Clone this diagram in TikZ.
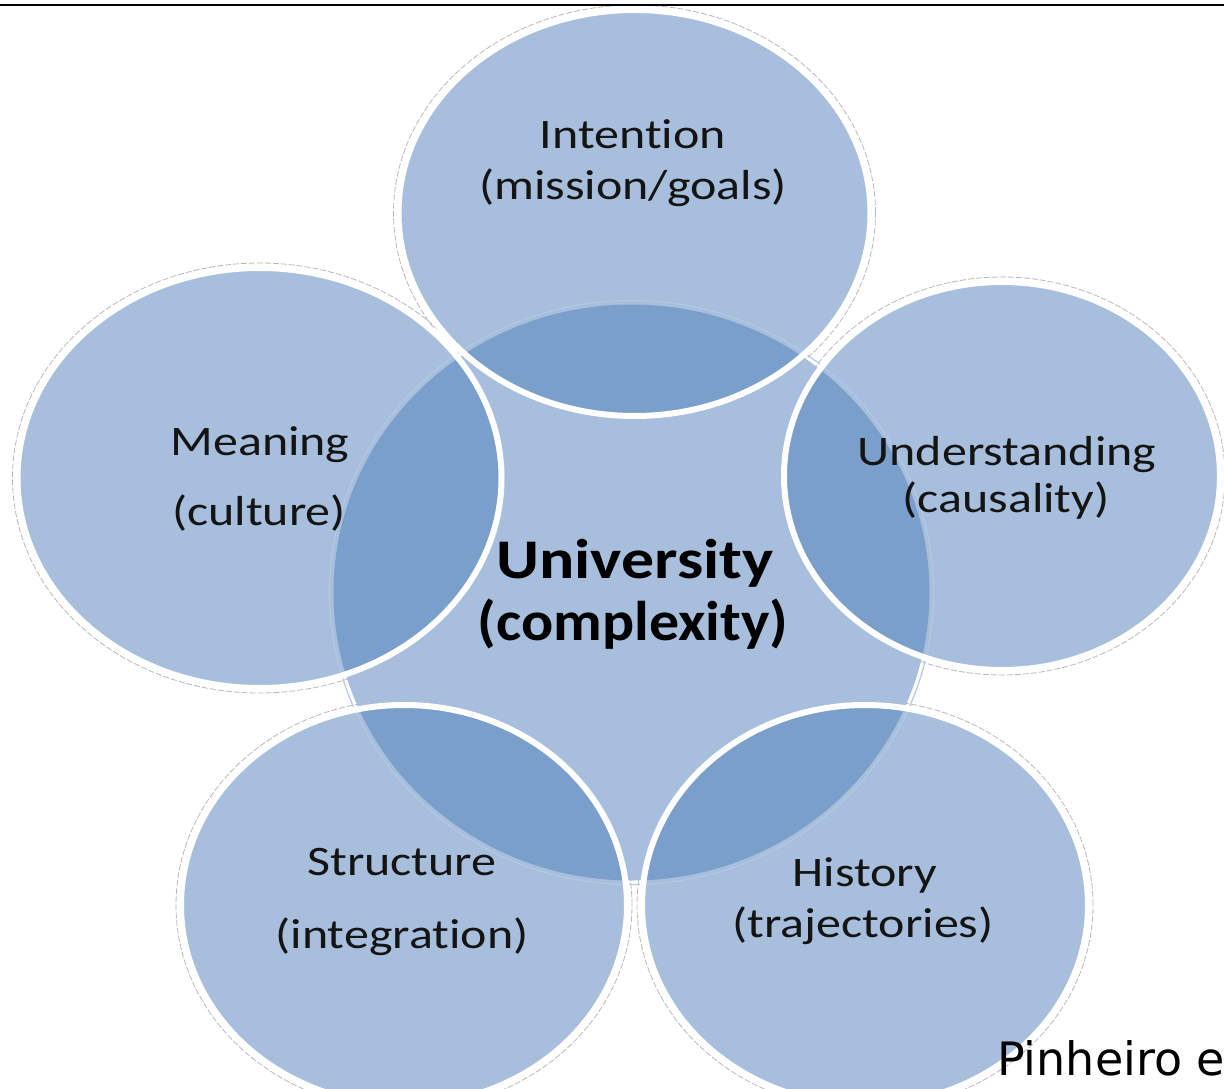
\documentclass[tikz,border=0pt]{standalone}
\usepackage{fontspec}
\setmainfont{Carlito}[Ligatures=NoCommon]
\newfontfamily\capfont{DejaVu Sans}
\usetikzlibrary{shapes.geometric}
\definecolor{lightblue}{HTML}{A7BFDD}
\definecolor{darkblue}{HTML}{7A9FCB}
\definecolor{ringblue}{HTML}{B3C8E3}
\definecolor{shadowgray}{HTML}{B8B8B8}
\definecolor{txt}{HTML}{141414}
\tikzset{
  lbl/.style={anchor=base, inner sep=0pt, text=txt, font=\fontsize{42}{50}\selectfont, xscale=1.19, transform shape},
  biglbl/.style={anchor=base, inner sep=0pt, text=black, font=\bfseries\fontsize{56}{62}\selectfont, transform shape},
  shadowline/.style={draw=shadowgray, line width=0.8pt, dash pattern=on 6pt off 2pt},
  rimline/.style={draw=white, line width=6pt},
}
\begin{document}
\begin{tikzpicture}[x=1pt,y=-1pt]
\useasboundingbox (0,0) rectangle (1224,1089);
\clip (0,0) rectangle (1224,1089);
% centres and radii
\coordinate (cC) at (631.5,592.5);
\coordinate (cT) at (634.5,213);
\coordinate (cL) at (259.5,478);
\coordinate (cR) at (1002,476);
\coordinate (cBL) at (404,905);
\coordinate (cBR) at (865,905);
% shadows (outer thin dashed outlines)
\path[shadowline] (cT) ellipse [x radius=241pt, y radius=208pt];
\path[shadowline] (cL) ellipse [x radius=247pt, y radius=215pt];
\path[shadowline] (cR) ellipse [x radius=223pt, y radius=199pt];
\path[shadowline] (cBL) ellipse [x radius=228pt, y radius=205pt];
\path[shadowline] (cBR) ellipse [x radius=228pt, y radius=205pt];
% centre ellipse
\path[fill=lightblue] (cC) ellipse [x radius=298pt, y radius=288pt];
% outer ellipses
\foreach \c/\rx/\ry in {cT/236/203, cL/242/210, cR/218/194, cBL/223/200, cBR/223/200}{
  \path[fill=lightblue] (\c) ellipse [x radius=\rx pt, y radius=\ry pt];
  \begin{scope}
    \clip (\c) ellipse [x radius=\rx pt, y radius=\ry pt];
    \path[fill=darkblue] (cC) ellipse [x radius=298pt, y radius=288pt];
  \end{scope}
}
% faint ring of centre ellipse
\path[draw=ringblue, line width=1.2pt] (cC) ellipse [x radius=302pt, y radius=292pt];
% white rims
\foreach \c/\rx/\ry in {cT/236/203, cL/242/210, cR/218/194, cBL/223/200, cBR/223/200}{
  \path[rimline] (\c) ellipse [x radius=\rx pt, y radius=\ry pt];
}
% named ellipse nodes (invisible, for structure)
\node[ellipse, inner sep=0pt, minimum width=596pt, minimum height=576pt] (centre) at (cC) {};
\node[ellipse, inner sep=0pt, minimum width=472pt, minimum height=406pt] (intention) at (cT) {};
\node[ellipse, inner sep=0pt, minimum width=484pt, minimum height=420pt] (meaning) at (cL) {};
\node[ellipse, inner sep=0pt, minimum width=436pt, minimum height=388pt] (understanding) at (cR) {};
\node[ellipse, inner sep=0pt, minimum width=446pt, minimum height=400pt] (structure) at (cBL) {};
\node[ellipse, inner sep=0pt, minimum width=446pt, minimum height=400pt] (history) at (cBR) {};
% labels
\node[lbl] (t1) at (633,149) {Intention};
\node[lbl] (t2) at (633,200) {(mission/goals)};
\node[lbl] (m1) at (260,455) {Meaning};
\node[lbl] (m2) at (259,525) {(culture)};
\node[lbl] (u1) at (1007,465) {Understanding};
\node[lbl] (u2) at (1006,512) {(causality)};
\node[lbl] (s1) at (402,875) {Structure};
\node[lbl] (s2) at (402,948) {(integration)};
\node[lbl] (h1) at (865,886) {History};
\node[lbl] (h2) at (863,937) {(trajectories)};
\node[biglbl, xscale=1.175] (c1) at (635,578) {University};
\node[biglbl, xscale=1.07] (c2) at (633,640) {(complexity)};
\node[anchor=base west, inner sep=0pt, font=\capfont\fontsize{46}{52}\selectfont] (cite) at (997,1075) {Pinheiro e};
% top rule
\coordinate (ruleL) at (0,5);
\coordinate (ruleR) at (1224,5);
\draw[line width=2pt, black] (ruleL) -- (ruleR);
\end{tikzpicture}
\end{document}
